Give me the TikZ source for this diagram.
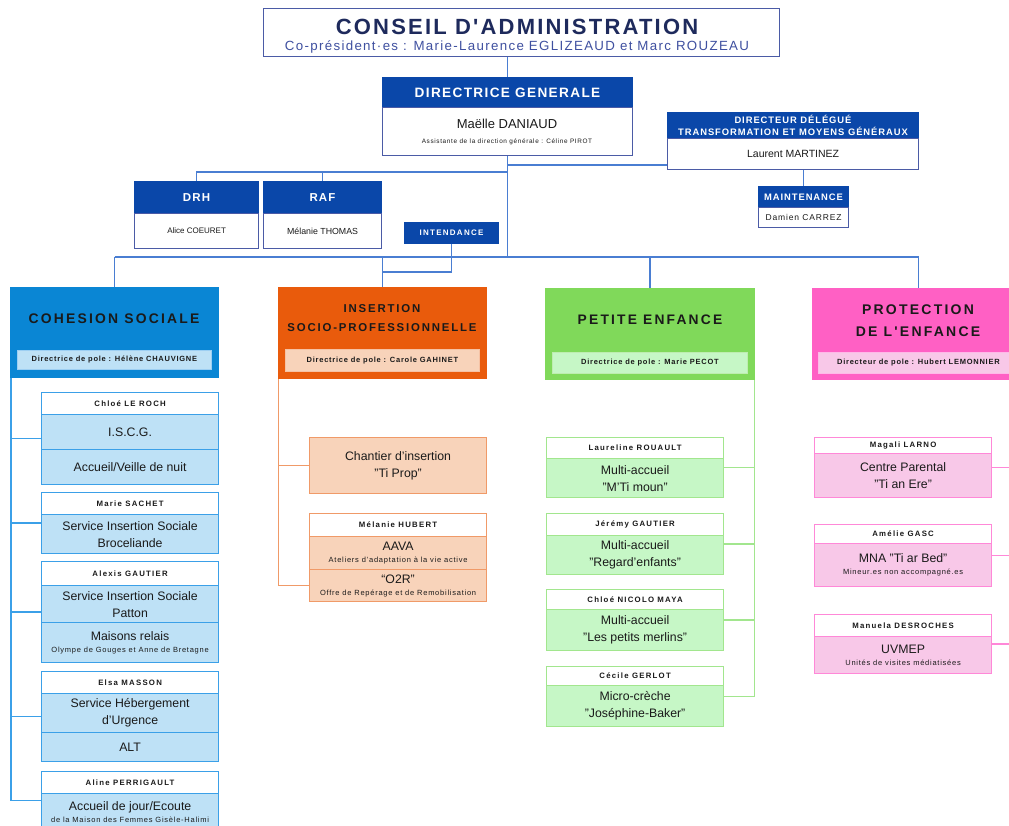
\documentclass[tikz,border=0pt]{standalone}
\usepackage{fontspec}
\setmainfont{Liberation Sans}
\newfontfamily\spcd[LetterSpace=10]{Liberation Sans}
\newfontfamily\spcw[LetterSpace=16]{Liberation Sans}
\usetikzlibrary{fit}
\definecolor{dgblue}{HTML}{0A47A9}
\definecolor{cbord}{HTML}{4B5BA6}
\definecolor{navy}{HTML}{1E2A5C}
\definecolor{subblue}{HTML}{3F50A0}
\definecolor{conn}{HTML}{4A7ED2}
\definecolor{cohblue}{HTML}{0A86D4}
\definecolor{cohlight}{HTML}{BEE1F6}
\definecolor{cohline}{HTML}{3BA0E8}
\definecolor{orng}{HTML}{E95B0C}
\definecolor{peach}{HTML}{F8D3BA}
\definecolor{orline}{HTML}{F09A68}
\definecolor{grn}{HTML}{80D95A}
\definecolor{grnlight}{HTML}{C6F7C6}
\definecolor{grnline}{HTML}{A2E68E}
\definecolor{pnk}{HTML}{FF60C4}
\definecolor{pnklight}{HTML}{F8C8E8}
\definecolor{pnkline}{HTML}{FF88D8}
\definecolor{txt}{HTML}{1A1A1A}
\newcommand\fsz[2]{\fontsize{#1}{#2}\selectfont}
\newcommand\subl{\spcd\fsz{7.5}{9}}
\tikzset{
  cell/.style={draw, line width=1.2pt, inner sep=0pt, anchor=north west, align=center, minimum width=177pt, text=txt},
  namecell/.style={cell, fill=white, font=\spcw\bfseries\fsz{7.8}{9}},
  body/.style={font=\fsz{12.3}{17}},
  hdr/.style={draw=dgblue, fill=dgblue, line width=1pt, inner sep=0pt, anchor=north west, align=center, text=white},
  wbody/.style={draw=cbord, fill=white, line width=1.2pt, inner sep=0pt, anchor=north west, align=center, text=txt},
  pole/.style={line width=1pt, inner sep=0pt, anchor=north west},
  poletitle/.style={font=\spcw\bfseries, text=txt, align=center},
  polesub/.style={line width=0.8pt, inner sep=0pt, anchor=north west, font=\spcd\bfseries\fsz{7.5}{9}, text=txt},
  grp/.style={inner sep=0pt},
  cn/.style={draw=conn, line width=1.6pt},
  cl/.style={draw=cohline, line width=1.6pt},
  ol/.style={draw=orline, line width=1.6pt},
  gl/.style={draw=grnline, line width=1.6pt},
  pl/.style={draw=pnkline, line width=1.6pt},
}
\begin{document}
\begin{tikzpicture}[x=1pt,y=-1pt]
\clip (0,0) rectangle (1009,825);
\fill[white] (0,0) rectangle (1009,825);

% ---------- Conseil d'administration
\node[wbody, minimum width=516pt, minimum height=48pt] (ca) at (263,8) {};
\node[font=\spcd\bfseries\fsz{22}{24}, text=navy] (cat) at (517,27) {CONSEIL D'ADMINISTRATION};
\node[font=\spcd\fsz{13.3}{15}, text=subblue] (cas) at (517,47) {Co-président·es : Marie-Laurence EGLIZEAUD et Marc ROUZEAU};

% ---------- Directrice generale
\node[hdr, minimum width=250pt, minimum height=30pt, font=\spcd\bfseries\fsz{13.6}{15}] (dgh) at (382,77) {DIRECTRICE GENERALE};
\node[wbody, minimum width=250pt, minimum height=48pt] (dgb) at (382,107) {};
\node[font=\fsz{13}{15}, text=txt] (dgn) at (507,124) {Maëlle DANIAUD};
\node[font=\spcd\fsz{6.4}{7}, text=txt] (dga) at (507,142) {Assistante de la direction générale : Céline PIROT};

% ---------- Directeur delegue
\node[hdr, minimum width=251pt, minimum height=26pt, font=\spcd\bfseries\fsz{9.4}{11.5}] (ddh) at (667,112) {DIRECTEUR DÉLÉGUÉ\\TRANSFORMATION ET MOYENS GÉNÉRAUX};
\node[wbody, minimum width=251pt, minimum height=31pt, font=\fsz{10.5}{12}] (ddb) at (667,138) {Laurent MARTINEZ};

% ---------- Maintenance
\node[hdr, minimum width=90pt, minimum height=21pt, font=\spcd\bfseries\fsz{9.4}{10}] (mh) at (758,186) {MAINTENANCE};
\node[wbody, minimum width=90pt, minimum height=20pt, font=\spcd\fsz{8.5}{10}] (mb) at (758,207) {Damien CARREZ};

% ---------- DRH / RAF
\node[hdr, minimum width=124pt, minimum height=32pt, font=\spcd\bfseries\fsz{11.5}{13}] (drhh) at (134,181) {DRH};
\node[wbody, minimum width=124pt, minimum height=35pt, font=\fsz{8}{9}] (drhb) at (134,213) {Alice COEURET};
\node[hdr, minimum width=118pt, minimum height=32pt, font=\spcd\bfseries\fsz{11.5}{13}] (rafh) at (263,181) {RAF};
\node[wbody, minimum width=118pt, minimum height=35pt, font=\fsz{8.8}{10}] (rafb) at (263,213) {Mélanie THOMAS};

% ---------- Intendance
\node[hdr, minimum width=94pt, minimum height=21pt, font=\spcw\bfseries\fsz{8}{9}] (int) at (404,222) {INTENDANCE};

% ---------- top connectors
\coordinate (bus) at (0,257);
\coordinate (hr) at (0,172);
\coordinate (ddj) at (667,165);
\coordinate (ij) at (0,272);
\draw[cn] (dgh.north |- ca.south) -- (dgh.north);
\draw[cn] (dgb.south) -- (dgb.south |- bus);
\draw[cn] (dgb.south |- ddj) -- (ddj);
\draw[cn] (drhh.north) -- (drhh.north |- hr) -- (dgb.south |- hr);
\draw[cn] (rafh.north) -- (rafh.north |- hr);
\draw[cn] (ddb.south -| mh.north) -- (mh.north);

% ---------- Poles
\node[pole, fill=cohblue, draw=cohblue, minimum width=208pt, minimum height=90pt] (cohh) at (10,287) {};
\node[poletitle, font=\spcw\bfseries\fsz{13.9}{16}] (coht) at (114,319) {COHESION SOCIALE};
\node[polesub, fill=cohlight, draw=cohline!50, minimum width=194pt, minimum height=19pt] (cohs) at (17,350) {Directrice de pole : Hélène CHAUVIGNE};

\node[pole, fill=orng, draw=orng, minimum width=208pt, minimum height=91pt] (insh) at (278,287) {};
\node[poletitle, font=\spcw\bfseries\fsz{11.4}{19}] (inst) at (382,318) {INSERTION\\SOCIO-PROFESSIONNELLE};
\node[polesub, fill=peach, draw=orline!60, minimum width=194pt, minimum height=22pt] (inss) at (285,349) {Directrice de pole : Carole GAHINET};

\node[pole, fill=grn, draw=grn, minimum width=209pt, minimum height=91pt] (peh) at (545,288) {};
\node[poletitle, font=\spcw\bfseries\fsz{13.8}{16}] (pet) at (650,320) {PETITE ENFANCE};
\node[polesub, fill=grnlight, draw=grnline!70, minimum width=195pt, minimum height=21pt] (pes) at (552,352) {Directrice de pole : Marie PECOT};

\node[pole, fill=pnk, draw=pnk, minimum width=212pt, minimum height=91pt] (prh) at (812,288) {};
\node[poletitle, font=\spcw\bfseries\fsz{14}{22}] (prt) at (918,321) {PROTECTION\\DE L'ENFANCE};
\node[polesub, fill=pnklight, draw=pnkline!60, minimum width=200pt, minimum height=21pt] (prs) at (818,352) {Directeur de pole : Hubert LEMONNIER};

% bus and pole connectors
\draw[cn] (cohh.north |- bus) -- (prh.north |- bus);
\draw[cn] (cohh.north |- bus) -- (cohh.north);
\draw[cn] (insh.north |- bus) -- (insh.north);
\draw[cn] (peh.north |- bus) -- (peh.north);
\draw[cn] (prh.north |- bus) -- (prh.north);
\draw[cn] (int.south) -- (int.south |- ij) -- (insh.north |- ij);

% ---------- Cohesion sociale services
\begin{scope}[every node/.append style={draw=cohline}]
\node[namecell] (c1n) at (41,392) [minimum height=22pt] {Chloé LE ROCH};
\node[cell, fill=cohlight, body, minimum height=35pt] (c1a) at (41,414) {I.S.C.G.};
\node[cell, fill=cohlight, body, minimum height=35pt] (c1b) at (41,449) {Accueil/Veille de nuit};
\node[namecell, minimum height=22pt] (c2n) at (41,492) {Marie SACHET};
\node[cell, fill=cohlight, body, minimum height=39pt] (c2a) at (41,514) {Service Insertion Sociale\\Broceliande};
\node[namecell, minimum height=24pt] (c3n) at (41,561) {Alexis GAUTIER};
\node[cell, fill=cohlight, body, minimum height=37pt] (c3a) at (41,585) {Service Insertion Sociale\\Patton};
\node[cell, fill=cohlight, body, minimum height=40pt] (c3b) at (41,622) {Maisons relais\\[-5pt]{\subl Olympe de Gouges et Anne de Bretagne}};
\node[namecell, minimum height=22pt] (c4n) at (41,671) {Elsa MASSON};
\node[cell, fill=cohlight, body, minimum height=39pt] (c4a) at (41,693) {Service Hébergement\\d’Urgence};
\node[cell, fill=cohlight, body, minimum height=29pt] (c4b) at (41,732) {ALT};
\node[namecell, minimum height=22pt] (c5n) at (41,771) {Aline PERRIGAULT};
\node[cell, fill=cohlight, body, minimum height=36pt] (c5a) at (41,793) {Accueil de jour/Ecoute\\[-5pt]{\subl de la Maison des Femmes Gisèle-Halimi}};
\end{scope}
\node[grp, fit=(c1n)(c1b)] (g1) {};
\node[grp, fit=(c2n)(c2a)] (g2) {};
\node[grp, fit=(c3n)(c3b)] (g3) {};
\node[grp, fit=(c4n)(c4b)] (g4) {};
\node[grp, fit=(c5n)(c5a)] (g5) {};
\coordinate (cv) at ([xshift=1pt]cohh.south west);
\draw[cl] (cv) |- (g5.west);
\foreach \g in {g1,g2,g3,g4} \draw[cl] (cv |- \g.west) -- (\g.west);

% ---------- Insertion services
\begin{scope}[every node/.append style={draw=orline}]
\node[cell, fill=peach, body, minimum height=56pt] (in1) at (309,437) {Chantier d’insertion\\"Ti Prop"};
\node[namecell, minimum height=23pt] (in2n) at (309,513) {Mélanie HUBERT};
\node[cell, fill=peach, body, minimum height=33pt] (in2a) at (309,536) {AAVA\\[-5pt]{\subl Ateliers d’adaptation à la vie active}};
\node[cell, fill=peach, body, minimum height=32pt] (in2b) at (309,569) {“O2R”\\[-5pt]{\subl Offre de Repérage et de Remobilisation}};
\end{scope}
\coordinate (iv) at ([xshift=0.5pt]insh.south west);
\draw[ol] (iv) |- (in2b.west);
\draw[ol] (iv |- in1.west) -- (in1.west);

% ---------- Petite enfance services
\begin{scope}[every node/.append style={draw=grnline}]
\node[namecell, minimum height=21pt] (p1n) at (546,437) {Laureline ROUAULT};
\node[cell, fill=grnlight, body, minimum height=39pt] (p1a) at (546,458) {Multi-accueil\\"M’Ti moun"};
\node[namecell, minimum height=22pt] (p2n) at (546,513) {Jérémy GAUTIER};
\node[cell, fill=grnlight, body, minimum height=39pt] (p2a) at (546,535) {Multi-accueil\\"Regard’enfants"};
\node[namecell, minimum height=20pt] (p3n) at (546,589) {Chloé NICOLO MAYA};
\node[cell, fill=grnlight, body, minimum height=41pt] (p3a) at (546,609) {Multi-accueil\\"Les petits merlins"};
\node[namecell, minimum height=19pt] (p4n) at (546,666) {Cécile GERLOT};
\node[cell, fill=grnlight, body, minimum height=41pt] (p4a) at (546,685) {Micro-crèche\\"Joséphine-Baker"};
\end{scope}
\node[grp, fit=(p1n)(p1a)] (gp1) {};
\node[grp, fit=(p2n)(p2a)] (gp2) {};
\node[grp, fit=(p3n)(p3a)] (gp3) {};
\node[grp, fit=(p4n)(p4a)] (gp4) {};
\coordinate (pv) at ([xshift=-0.5pt]peh.south east);
\draw[gl] (pv) |- (gp4.east);
\foreach \g in {gp1,gp2,gp3} \draw[gl] (pv |- \g.east) -- (\g.east);

% ---------- Protection de l'enfance services
\begin{scope}[every node/.append style={draw=pnkline}]
\node[namecell, minimum height=16pt] (r1n) at (814,437) {Magali LARNO};
\node[cell, fill=pnklight, body, minimum height=44pt] (r1a) at (814,453) {Centre Parental\\"Ti an Ere"};
\node[namecell, minimum height=19pt] (r2n) at (814,524) {Amélie GASC};
\node[cell, fill=pnklight, body, minimum height=43pt] (r2a) at (814,543) {MNA "Ti ar Bed"\\[-5pt]{\subl Mineur.es non accompagné.es}};
\node[namecell, minimum height=22pt] (r3n) at (814,614) {Manuela DESROCHES};
\node[cell, fill=pnklight, body, minimum height=37pt] (r3a) at (814,636) {UVMEP\\[-5pt]{\subl Unités de visites médiatisées}};
\end{scope}
\node[grp, fit=(r1n)(r1a)] (gr1) {};
\node[grp, fit=(r2n)(r2a)] (gr2) {};
\node[grp, fit=(r3n)(r3a)] (gr3) {};
\coordinate (rv) at ([xshift=-0.5pt]prh.south east);
\draw[pl] (rv) |- (gr3.east);
\foreach \g in {gr1,gr2} \draw[pl] (rv |- \g.east) -- (\g.east);
\end{tikzpicture}
\end{document}
